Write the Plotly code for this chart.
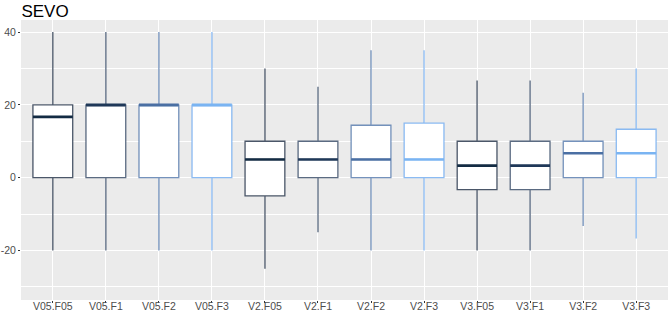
import plotly.graph_objects as go

categories = ["V05.F05", "V05.F1", "V05.F2", "V05.F3",
              "V2.F05", "V2.F1", "V2.F2", "V2.F3",
              "V3.F05", "V3.F1", "V3.F2", "V3.F3"]
lower_whisker = [-20, -20, -20, -20, -25, -15, -20, -20, -20, -20, -13.3, -16.7]
q1_values = [0, 0, 0, 0, -5, 0, 0, 0, -3.3, -3.3, 0, 0]
medians = [16.7, 20, 20, 20, 5, 5, 5, 5, 3.3, 3.3, 6.7, 6.7]
q3_values = [20, 20, 20, 20, 10, 10, 14.4, 15, 10, 10, 10, 13.3]
upper_whisker = [40, 40, 40, 40, 30, 25, 35, 35, 26.7, 26.7, 23.3, 30]

line_colors = ["#132B43", "#1F3858", "#4A6FA3", "#7AB4F2"] * 3
box_line_colors = ["rgba(30,45,68,0.8)", "rgba(36,57,88,0.75)", "rgba(70,110,165,0.75)", "rgba(110,170,240,0.8)"] * 3

fig = go.Figure()
for i, cat in enumerate(categories):
    fig.add_trace(go.Box(
        x=[cat], q1=[q1_values[i]], median=[medians[i]], q3=[q3_values[i]],
        lowerfence=[lower_whisker[i]], upperfence=[upper_whisker[i]],
        fillcolor="white", line=dict(color=box_line_colors[i], width=1.3),
        whiskerwidth=0, width=0.75, boxpoints=False, showlegend=False,
    ))
    # thick median segment
    fig.add_trace(go.Box(
        x=[cat], q1=[medians[i]], median=[medians[i]], q3=[medians[i]],
        lowerfence=[medians[i]], upperfence=[medians[i]],
        fillcolor="rgba(0,0,0,0)", line=dict(color=line_colors[i], width=2.6),
        whiskerwidth=0, width=0.75, boxpoints=False, showlegend=False,
    ))

fig.update_layout(
    width=669, height=312,
    margin=dict(l=21, r=1, t=20, b=12, autoexpand=False),
    paper_bgcolor="white", plot_bgcolor="#EBEBEB",
    boxmode="overlay",
    title=dict(text="SEVO", x=0.032, xref="container", xanchor="left", y=0.985, yref="container",
               yanchor="top", font=dict(family="Liberation Sans, Arial", size=17, color="black")),
    font=dict(family="Liberation Sans, Arial"),
)
fig.update_xaxes(
    type="category", categoryorder="array", categoryarray=categories,
    range=[-0.6, 11.6], showgrid=True, gridcolor="white", gridwidth=1.1,
    ticks="outside", ticklen=2, tickcolor="#333333", tickwidth=1,
    ticklabelstandoff=-6, automargin=False,
    tickfont=dict(size=10.5, color="#4D4D4D"), zeroline=False, showline=False,
)
fig.update_yaxes(
    range=[-33.6, 43.3], tickvals=[-20, 0, 20, 40], ticktext=["-20", "0", "20", "40"],
    showgrid=True, gridcolor="white", gridwidth=1.1,
    minor=dict(tickvals=[-30, -10, 10, 30], showgrid=True, gridcolor="white", gridwidth=0.5),
    ticks="outside", ticklen=2, tickcolor="#333333", tickwidth=1, automargin=False,
    tickfont=dict(size=10.5, color="#4D4D4D"), zeroline=False, showline=False,
)

fig.write_html("out.html", config={"displayModeBar": False},
               post_script="document.body.style.margin='0';document.body.style.overflow='hidden';")
